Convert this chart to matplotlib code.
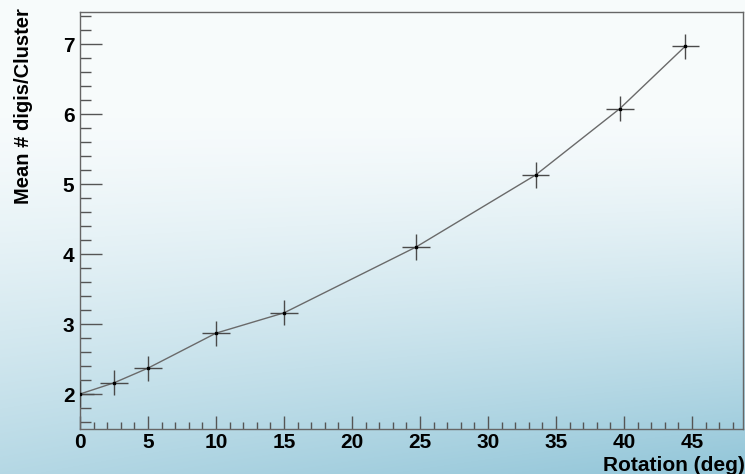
import numpy as np
import matplotlib
matplotlib.use("Agg")
import matplotlib.pyplot as plt
from matplotlib.ticker import MultipleLocator

# Veriler
rotation = [0.0, 2.5, 5.0, 10.0, 15.0, 24.7, 33.5, 39.7, 44.5]
mean_digis = [2.0, 2.16, 2.37, 2.87, 3.16, 4.10, 5.13, 6.08, 6.97]
rotation_err = [1.0, 1.0, 1.0, 1.0, 1.0, 1.0, 1.0, 1.0, 1.0]
digis_err = [0.18, 0.18, 0.18, 0.18, 0.18, 0.18, 0.18, 0.18, 0.18]

plt.rcParams['font.family'] = ['Liberation Sans', 'DejaVu Sans']

fig = plt.figure(figsize=(7.45, 4.74), dpi=100)

# Arka plan gradyanı
h, w = 474, 745
yy, xx = np.mgrid[0:h, 0:w]
fy = yy / (h - 1)
fx = xx / (w - 1)
top = np.array([247, 251, 252]) / 255.0
bottom = np.array([145, 197, 216]) / 255.0
wgt = np.clip((fy - 0.25) / 0.75, 0, 1) ** 1.3 * (0.65 + 0.35 * fx)
img = top[None, None, :] * (1 - wgt[..., None]) + bottom[None, None, :] * wgt[..., None]
bg = fig.add_axes([0, 0, 1, 1], zorder=-1)
bg.imshow(img, aspect='auto', extent=[0, 1, 0, 1])
bg.axis('off')

ax = fig.add_axes([80 / 745, 45 / 474, 663 / 745, 417 / 474])
ax.set_facecolor('none')

ax.plot(rotation, mean_digis, color='#6a6a6a', lw=1.0, zorder=2)
ax.errorbar(rotation, mean_digis, xerr=rotation_err, yerr=digis_err, fmt='none',
            ecolor='#4a4a4a', elinewidth=1.0, capsize=0, zorder=3)
ax.plot(rotation, mean_digis, ls='none', marker='s', ms=1.5, color='black', zorder=4)

ax.set_xlim(0, 48.75)
ax.set_ylim(1.5, 7.46)

ax.xaxis.set_major_locator(MultipleLocator(5))
ax.xaxis.set_minor_locator(MultipleLocator(1))
ax.yaxis.set_major_locator(MultipleLocator(1))
ax.yaxis.set_minor_locator(MultipleLocator(0.2))

ax.tick_params(axis='y', which='major', direction='in', length=15.5, width=1, color='#555555', pad=4)
ax.tick_params(axis='y', which='minor', direction='in', length=7.8, width=1, color='#555555')
ax.tick_params(axis='x', which='major', direction='in', length=9.5, width=1, color='#555555', pad=3)
ax.tick_params(axis='x', which='minor', direction='in', length=4.7, width=1, color='#555555')

for lbl in ax.get_xticklabels() + ax.get_yticklabels():
    lbl.set_fontweight('bold')
    lbl.set_fontsize(15)

for sp in ax.spines.values():
    sp.set_color('#666666')
    sp.set_linewidth(1)

fig.text(1.0, -0.002, "Rotation (deg)", ha='right', va='bottom', fontsize=15, fontweight='bold')
fig.text(0.032, 0.982, "Mean # digis/Cluster", ha='center', va='top', rotation=90,
         fontsize=14.5, fontweight='bold')

fig.savefig("out.png", dpi=100)
